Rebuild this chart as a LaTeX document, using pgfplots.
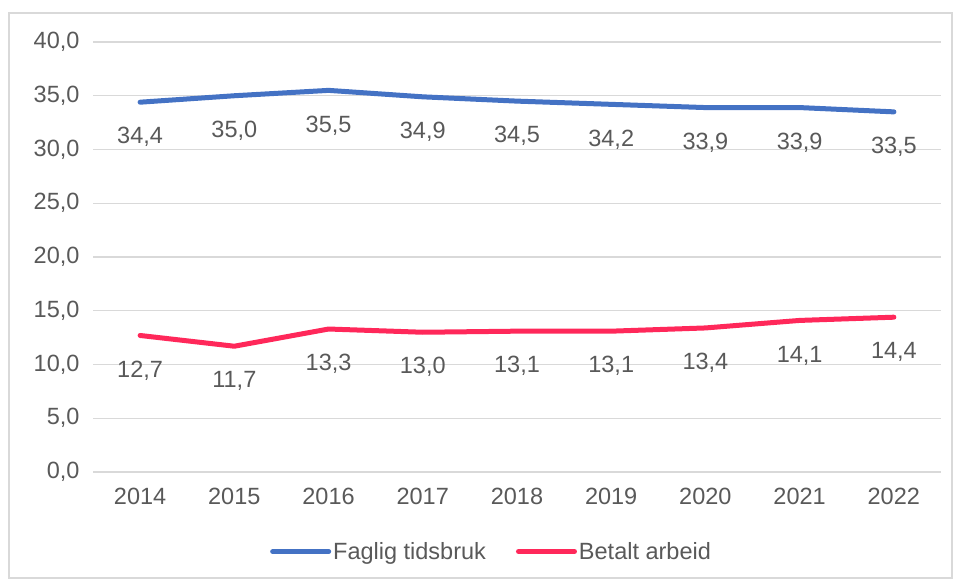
\documentclass[border=0pt]{standalone}
\usepackage{pgfplots}
\pgfplotsset{compat=1.18}
\usepackage{fontspec}
\setmainfont{Liberation Sans}

\definecolor{fagblue}{RGB}{68,114,196}
\definecolor{betpink}{RGB}{255,40,90}
\definecolor{txtgray}{RGB}{89,89,89}
\definecolor{gridgray}{RGB}{217,217,217}

\pgfplotstableread{
year fag bet
2014 34.4 12.7
2015 35.0 11.7
2016 35.5 13.3
2017 34.9 13.0
2018 34.5 13.1
2019 34.2 13.1
2020 33.9 13.4
2021 33.9 14.1
2022 33.5 14.4
}\datatable

\newcommand{\chartfont}{\fontsize{23.5}{27}\selectfont}

\begin{document}
\begin{tikzpicture}[x=1pt,y=1pt]
\path (0,0) rectangle (957,581);
\draw[gridgray, line width=1.5pt] (9,3) rectangle (952,568);
\begin{axis}[
    at={(93pt,109pt)}, anchor=south west,
    scale only axis,
    width=848pt, height=430pt,
    xmin=2013.5, xmax=2022.5,
    ymin=0, ymax=40,
    xtick={2014,...,2022},
    ytick={0,5,...,40},
    /pgf/number format/assume math mode=true,
    xticklabel style={/pgf/number format/.cd, set thousands separator={}},
    yticklabel style={/pgf/number format/.cd, fixed, fixed zerofill, precision=1, use comma},
    tick label style={text=txtgray, font=\chartfont},
    xticklabel shift=13pt,
    yticklabel shift=10pt,
    axis line style={draw=none},
    ymajorgrids,
    grid style={gridgray, line width=1.2pt},
    major tick length=0pt,
    clip=false,
    nodes near coords,
    every node near coord/.append style={anchor=center, yshift=-35pt, text=txtgray,
        font=\chartfont,
        /pgf/number format/.cd, fixed, fixed zerofill, precision=1, use comma, assume math mode=true},
    legend columns=2,
    legend style={at={(0.47,-0.185)}, anchor=center, draw=none, fill=none,
        text=txtgray, font=\chartfont,
        /tikz/every even column/.append style={column sep=28pt}},
    legend image code/.code={\draw[#1, line cap=round] (0pt,0pt) -- (56pt,0pt);},
]
\addplot[fagblue, line width=5pt, line join=round, line cap=round] table[x=year, y=fag] {\datatable};
\addlegendentry{Faglig tidsbruk}
\addplot[betpink, line width=5pt, line join=round, line cap=round] table[x=year, y=bet] {\datatable};
\addlegendentry{Betalt arbeid}
\end{axis}
\end{tikzpicture}
\end{document}
